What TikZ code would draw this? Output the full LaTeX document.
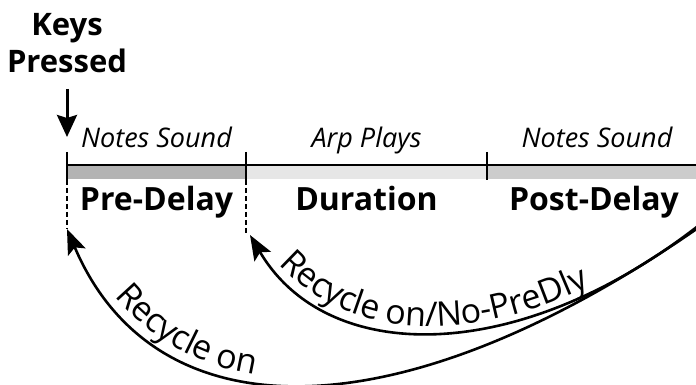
\documentclass[tikz,border=0pt]{standalone}
\usepackage{fontspec}
\setmainfont{Open Sans}
\usetikzlibrary{arrows.meta, decorations.text}

\begin{document}
\begin{tikzpicture}[x=1pt, y=1pt]
    % Define colours
    \definecolor{preColour}{HTML}{B3B3B3}
    \definecolor{durColour}{HTML}{E6E6E6}
    \definecolor{postColour}{HTML}{CCCCCC}

    % Define styles
    \tikzset{
        phase/.style={font=\itshape\fontsize{27}{29}\selectfont, anchor=base},
        stage/.style={font=\bfseries\fontsize{32}{35}\selectfont, anchor=base},
        keylabel/.style={font=\bfseries\fontsize{31}{34}\selectfont, anchor=base},
        recycle/.style={line width=2.6pt, -{Stealth[length=25pt, width=19pt, inset=5pt]}},
        along/.style={decorate, decoration={text along path, text={|\curveFont|#1}, raise=6pt}}
    }
    \def\curveFont{\fontsize{34}{36}\selectfont}

    % Fix the bounding box
    \useasboundingbox (0,0) rectangle (696,385);

    % Define tick points on the timeline
    \coordinate (T0) at (67,220);
    \coordinate (T1) at (246,220);
    \coordinate (T2) at (487,220);
    \coordinate (T3) at (696,220);

    % Draw the shaded bars
    \fill[preColour] (67,206) rectangle (T1);
    \fill[durColour] (246,206) rectangle (T2);
    \fill[postColour] (487,206) rectangle (T3);

    % Draw timeline and ticks
    \draw[line width=2pt] (T0) -- (T3);
    \foreach \x in {67,246,487}
        \draw[line width=1.6pt] (\x,233) -- (\x,205);

    % Arrow tips of the loops
    \coordinate (A0) at (67,156);
    \coordinate (A1) at (250,150);
    % Draw dashed drop lines
    \draw[dash pattern=on 5pt off 3pt, line width=1.3pt] (67,205) -- (A0);
    \draw[dash pattern=on 5pt off 3pt, line width=1.3pt] (246,205) -- (246,150);

    % Phase labels above the line
    \node[phase] (sound1) at (156.5,237) {Notes Sound};
    \node[phase] (arp) at (366.5,237) {Arp Plays};
    \node[phase] (sound2) at (597,237) {Notes Sound};

    % Stage labels below the line
    \node[stage] (pre) at (156.5,174) {Pre-Delay};
    \node[stage] (dur) at (366.5,174) {Duration};
    \node[stage] (post) at (594,174) {Post-Delay};

    % Keys pressed marker
    \node[keylabel] (keys) at (67,349) {Keys};
    \node[keylabel] (pressed) at (67,312) {Pressed};
    \coordinate (K) at (67,248);
    \draw[line width=3pt, -{Stealth[length=22pt, width=20pt, inset=3pt]}, shorten <=12pt] (pressed.south) -- (K);

    % Loop start points at the right edge
    \coordinate (R0) at (698,157);
    \coordinate (R1) at (698,159);

    % Draw the recycle loops
    \draw[recycle] (R0) .. controls (398,-51) and (155,-51) .. (A0);
    \draw[recycle] (R1) .. controls (518,19) and (327,19) .. (A1);

    % Text along the loops
    \path[along=Recycle on, decoration={text align={left indent=84pt}}] (A0) .. controls (155,-51) and (398,-51) .. (R0);
    \path[along=Recycle on/No-PreDly, decoration={text align={left indent=42pt}}] (A1) .. controls (327,19) and (518,19) .. (R1);

\end{tikzpicture}
\end{document}
